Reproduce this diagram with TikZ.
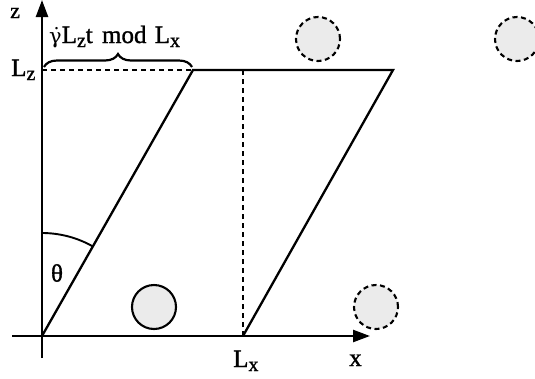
\documentclass[tikz,border=0pt]{standalone}
\usepackage{fontspec}
\setmainfont{Liberation Serif}
\newfontfamily\lblfont[FakeBold=1.2]{Liberation Serif}
\newfontfamily\gfont{DejaVu Serif}
\usetikzlibrary{arrows.meta,decorations.pathreplacing}
\newcommand{\sub}[1]{\raisebox{-4pt}{\fontsize{20}{22}\selectfont #1}}
\begin{document}
\begin{tikzpicture}[x=1pt,y=-1pt,
  line/.style={line width=2.3pt},
  axisln/.style={line width=2.4pt,-{Triangle[length=17pt,width=12pt]}},
  dashln/.style={line width=1.9pt,dash pattern=on 5pt off 4pt},
  lbl/.style={font=\lblfont\fontsize{25}{28}\selectfont,inner sep=0pt,anchor=base west},
  ball/.style={circle,draw,line width=2.1pt,fill=black!8,minimum size=44pt,inner sep=0pt},
  ghost/.style={ball,dash pattern=on 5pt off 3.5pt}]
\useasboundingbox (0,0) rectangle (535,378);
\coordinate (O) at (42,336);
\coordinate (Zb) at (42,358);
\coordinate (Zt) at (42,0);
\coordinate (Xl) at (12,336);
\coordinate (Xr) at (370,336);
\coordinate (A) at (193,70);
\coordinate (B) at (393,70);
\coordinate (C) at (243,336);
\coordinate (Lz) at (42,70);
\coordinate (Ct) at (243,70);
\coordinate (Bl) at (44,67);
\coordinate (Br) at (192,67);
\draw[axisln] (Zb) -- (Zt);
\draw[axisln] (Xl) -- (Xr);
\draw[line,line join=miter] (O) -- (A) -- (B) -- (C);
\draw[dashln] (Lz) -- (A);
\draw[dashln] (C) -- (Ct);
\draw[line width=2.2pt,decorate,decoration={brace,amplitude=13pt}] (Bl) -- (Br);
\draw[line width=1.9pt] (42,233) arc[start angle=-90,end angle=-60.4,radius=103];
\node[ball] (b1) at (154,307) {};
\node[ghost] (g1) at (318,39) {};
\node[ghost] (g2) at (517,39) {};
\node[ghost] (g3) at (376,307) {};
\node[lbl,font=\lblfont\fontsize{22}{24}\selectfont] (tz) at (10,18) {z};
\node[lbl] (tlz) at (11,76) {L\sub{z}};
\node[lbl] (tmod) at (49,43) {{\gfont\fontsize{21}{24}\selectfont γ̇}L\sub{z}t\hspace{3pt} mod\hspace{2pt} L\sub{x}};
\node[lbl,anchor=center] (tth) at (57,273) {θ};
\node[lbl] (tlx) at (233,367) {L\sub{x}};
\node[lbl] (tx) at (349,366) {x};
\end{tikzpicture}
\end{document}
